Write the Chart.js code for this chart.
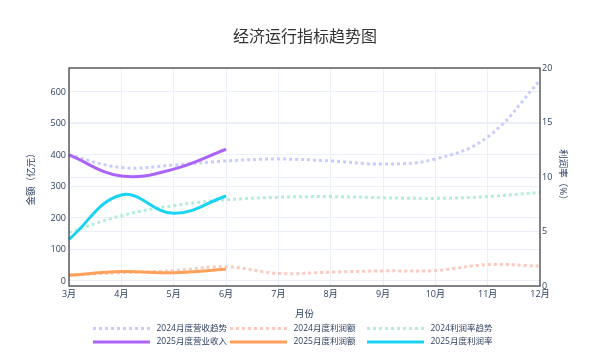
<!DOCTYPE html>
<html>
<head>
<meta charset="utf-8">
<script src="https://cdn.jsdelivr.net/npm/chart.js@4/dist/chart.umd.min.js"></script>
<style>
  html, body { margin: 0; padding: 0; background: #ffffff; }
  #wrap { width: 610px; height: 356px; }
</style>
</head>
<body>
<div id="wrap"><canvas id="c" width="610" height="356"></canvas></div>
<script>
const months = ['3月','4月','5月','6月','7月','8月','9月','10月','11月','12月'];
const revenue2024 = [400, 360, 368, 381, 387, 381, 371, 387, 457, 636];
const profit2024 = [19, 26, 33, 45, 24, 28, 32, 33, 52, 47];
const rate2024 = [4.9, 6.45, 7.37, 7.9, 8.14, 8.2, 8.1, 8.04, 8.2, 8.6];
const revenue2025 = [400, 333, 355, 418, null, null, null, null, null, null];
const profit2025 = [18, 30, 26, 37, null, null, null, null, null, null];
const rate2025 = [4.28, 8.35, 6.67, 8.26, null, null, null, null, null, null];
const leftTicks = [0, 100, 200, 300, 400, 500, 600];
const rightTicks = [0, 5, 10, 15, 20];

const FONT = "'Open Sans', 'Noto Sans CJK SC', sans-serif";
const TXT = '#2a3f5f';
const GRID = '#ebf0f8';

const legendPlugin = {
  id: 'gridLegend',
  afterDraw(chart) {
    const ctx = chart.ctx;
    const ds = chart.data.datasets;
    const colX = [93, 230, 367];
    const rowY = [328.5, 342];
    ctx.save();
    ds.forEach((d, k) => {
      const col = k % 3, row = Math.floor(k / 3);
      const x = colX[col], y = rowY[row];
      ctx.beginPath();
      ctx.strokeStyle = d.borderColor;
      ctx.lineWidth = d.borderWidth;
      ctx.setLineDash(d.borderDash || []);
      ctx.moveTo(x, y);
      ctx.lineTo(x + 57, y);
      ctx.stroke();
      ctx.setLineDash([]);
      ctx.fillStyle = TXT;
      ctx.font = '8.5px ' + FONT;
      ctx.textBaseline = 'middle';
      ctx.textAlign = 'left';
      ctx.fillText(d.label, x + 63.5, y);
    });
    const a = chart.chartArea;
    ctx.strokeStyle = '#444444';
    ctx.lineWidth = 1.3;
    ctx.strokeRect(a.left, a.top, a.right - a.left, a.bottom - a.top);
    ctx.restore();
  }
};

new Chart(document.getElementById('c'), {
  type: 'line',
  data: {
    labels: months,
    datasets: [
      { label: '2024月度营收趋势', data: revenue2024, yAxisID: 'y', borderColor: '#c9ccfd', borderWidth: 3, borderDash: [3, 3], order: 1 },
      { label: '2024月度利润额', data: profit2024, yAxisID: 'y', borderColor: '#fcc9bf', borderWidth: 3, borderDash: [3, 3], order: 1 },
      { label: '2024利润率趋势', data: rate2024, yAxisID: 'y1', borderColor: '#b2eedb', borderWidth: 3, borderDash: [3, 3], order: 1 },
      { label: '2025月度营业收入', data: revenue2025, yAxisID: 'y', borderColor: '#ab63fa', borderWidth: 3, order: 0 },
      { label: '2025月度利润额', data: profit2025, yAxisID: 'y', borderColor: '#ffa15a', borderWidth: 3, order: 0 },
      { label: '2025月度利润率', data: rate2025, yAxisID: 'y1', borderColor: '#19d3f3', borderWidth: 3, order: 0 }
    ]
  },
  options: {
    responsive: false,
    animation: false,
    devicePixelRatio: 1,
    layout: { padding: { top: 0, left: 0, right: 0, bottom: 36 } },
    elements: {
      point: { radius: 0, hoverRadius: 0 },
      line: { tension: 0.4, fill: false, borderCapStyle: 'butt' }
    },
    plugins: {
      legend: { display: false },
      tooltip: { enabled: false },
      title: {
        display: true,
        text: '经济运行指标趋势图',
        color: '#333333',
        font: { family: FONT, size: 16, weight: 'normal', lineHeight: 1.2 },
        padding: { top: 27.5, bottom: 21.3 }
      }
    },
    scales: {
      x: {
        type: 'category',
        offset: false,
        grid: { color: GRID, drawTicks: false, lineWidth: 1 },
        border: { display: false },
        ticks: { color: TXT, font: { family: FONT, size: 9 }, padding: 3, maxRotation: 0, autoSkip: false },
        title: { display: true, text: '月份', color: TXT, font: { family: FONT, size: 9.5 }, padding: { top: 0, bottom: 0 } },
        afterFit(s) { s.height = 34; }
      },
      y: {
        position: 'left',
        min: -16,
        max: 676,
        afterBuildTicks(s) { s.ticks = leftTicks.map(v => ({ value: v })); },
        grid: { color: GRID, drawTicks: false },
        border: { display: false },
        ticks: { color: TXT, font: { family: FONT, size: 9 }, padding: 3 },
        title: { display: true, text: '金额（亿元）', color: TXT, font: { family: FONT, size: 9.5 }, padding: { top: 26, bottom: 0 } },
        afterFit(s) { s.width = 69; }
      },
      y1: {
        position: 'right',
        min: 0,
        max: 20,
        afterBuildTicks(s) { s.ticks = rightTicks.map(v => ({ value: v })); },
        grid: { color: GRID, drawTicks: false, drawOnChartArea: true },
        border: { display: false },
        ticks: { color: TXT, font: { family: FONT, size: 9 }, padding: 2 },
        title: { display: true, text: '利润率（%）', color: TXT, font: { family: FONT, size: 9.5 }, padding: { top: 42, bottom: 0 } },
        afterFit(s) { s.width = 70; }
      }
    }
  },
  plugins: [legendPlugin]
});
</script>
</body>
</html>
